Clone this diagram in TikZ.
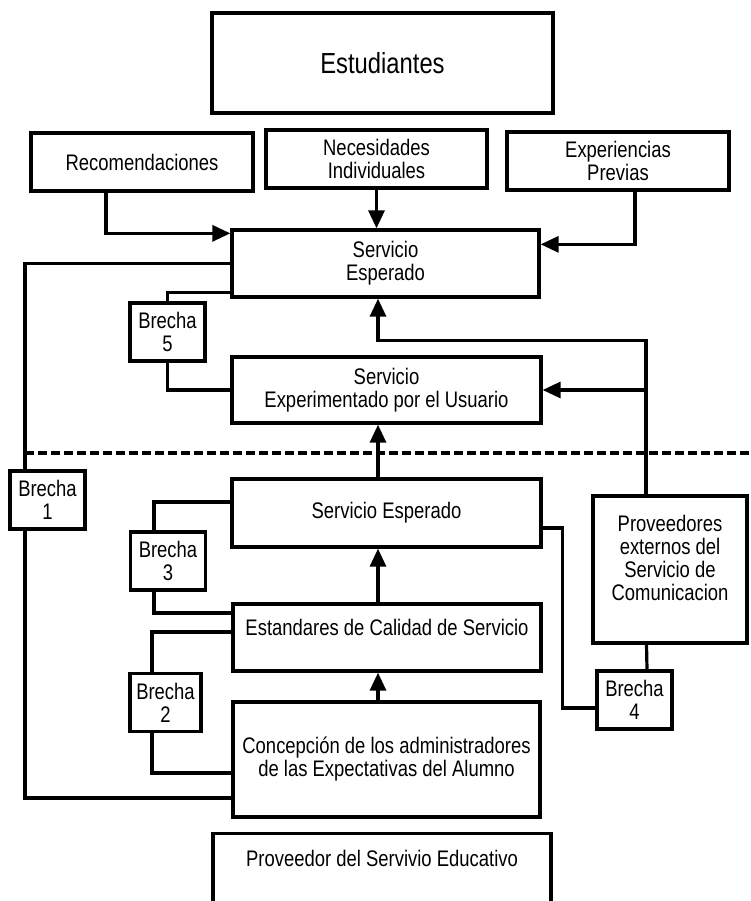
\documentclass[tikz,border=0pt]{standalone}
\usepackage{fontspec}
\setmainfont[FakeStretch=0.82]{Liberation Sans}
\usepackage{tikz}
\usetikzlibrary{arrows.meta}

\begin{document}
\begin{tikzpicture}[
    x=1pt, y=-1pt,
    box/.style={draw, line width=3.3pt, align=center, inner sep=2pt, font=\fontsize{22.5}{23}\selectfont},
    brecha/.style={box, minimum width=75pt, minimum height=58pt},
    arrow/.style={-{Triangle[length=18pt,width=16pt]}, line width=3.2pt},
    link/.style={line width=3.2pt},
    divider/.style={line width=3.3pt, dash pattern=on 9pt off 4pt}
]
\useasboundingbox (0,0) rectangle (750,901);

% Upper part
\node[box, minimum width=341pt, minimum height=100pt, font=\fontsize{29}{30}\selectfont] (stud) at (382.5,63) {Estudiantes};
\node[box, minimum width=222pt, minimum height=58pt] (recom) at (142,162) {Recomendaciones};
\node[box, minimum width=221pt, minimum height=58pt] (neces) at (376.5,159) {Necesidades\\Individuales};
\node[box, minimum width=222pt, minimum height=58pt] (exper) at (618,161) {Experiencias\\Previas};
\node[box, minimum width=307pt, minimum height=67pt] (esperado) at (385.5,263.5) {Servicio\\Esperado};
\node[brecha] (b5) at (167.5,332) {Brecha\\5};
\node[box, minimum width=309pt, minimum height=66pt] (experim) at (386.5,390) {Servicio\\Experimentado por el Usuario};

% Lower part
\node[brecha] (b1) at (47.5,500) {Brecha\\1};
\node[box, minimum width=309pt, minimum height=68pt] (espLow) at (386.5,513) {Servicio Esperado};
\node[brecha] (b3) at (168,561) {Brecha\\3};
\node[box, minimum width=154pt, minimum height=147pt, text depth=23pt] (provExt) at (670,569.5) {Proveedores\\externos del\\Servicio de\\Comunicacion};
\node[box, minimum width=308pt, minimum height=67pt, text height=16pt, text depth=21pt] (estand) at (387,637.5) {Estandares de Calidad de Servicio};
\node[brecha, minimum width=71pt] (b2) at (165.5,702.5) {Brecha\\2};
\node[brecha] (b4) at (634.5,700) {Brecha\\4};
\node[box, minimum width=307pt, minimum height=115pt] (concep) at (386.5,759.5) {Concepción de los administradores\\de las Expectativas del Alumno};
\node[box, anchor=north, minimum width=338pt, minimum height=100pt, text height=16pt, text depth=50pt] (provEdu) at (382,832) {Proveedor del Servivio Educativo};

\coordinate (col) at (378,0);

% Inputs to the expected service
\draw[arrow] ([xshift=-36pt]recom.south) |- ([yshift=-5pt]esperado.north west);
\draw[arrow] (neces.south) -- (neces.south |- esperado.north);
\draw[arrow] ([xshift=17pt]exper.south) |- ([yshift=-16pt]esperado.north east);

% Gaps
\draw[link] (esperado.west) -| ([xshift=-22.5pt]b1.north);
\draw[link] ([xshift=-22.5pt]b1.south) |- ([yshift=-38.5pt]concep.west);
\draw[link] ([yshift=6pt]esperado.south west) -| (b5.north);
\draw[link] (b5.south) |- (experim.west);
\draw[link] ([yshift=11pt]espLow.west) -| ([xshift=-14pt]b3.north);
\draw[link] ([xshift=-14pt]b3.south) |- ([yshift=24.5pt]estand.west);
\draw[link] ([yshift=5.5pt]estand.west) -| ([xshift=-13.5pt]b2.north);
\draw[link] ([xshift=-13.5pt]b2.south) |- ([yshift=-13.5pt]concep.west);
\draw[link] ([yshift=-15pt]espLow.east) -- ++(20,0) |- ([yshift=-8pt]b4.west);
\draw[link] ([xshift=-23.5pt]provExt.south) -- ([xshift=12.5pt]b4.north);

% Flow
\draw[arrow] ([xshift=-24pt]provExt.north) |- ([yshift=-42pt]esperado.south -| col) -- (esperado.south -| col);
\draw[arrow] ([xshift=-24pt]provExt.north |- experim.east) -- (experim.east);
\draw[arrow] (espLow.north -| col) -- (experim.south -| col);
\draw[arrow] (estand.north -| col) -- (espLow.south -| col);
\draw[arrow] (concep.north -| col) -- (estand.south -| col);

% Divider
\draw[divider] (25,453) -- (750,453);

\end{tikzpicture}
\end{document}
